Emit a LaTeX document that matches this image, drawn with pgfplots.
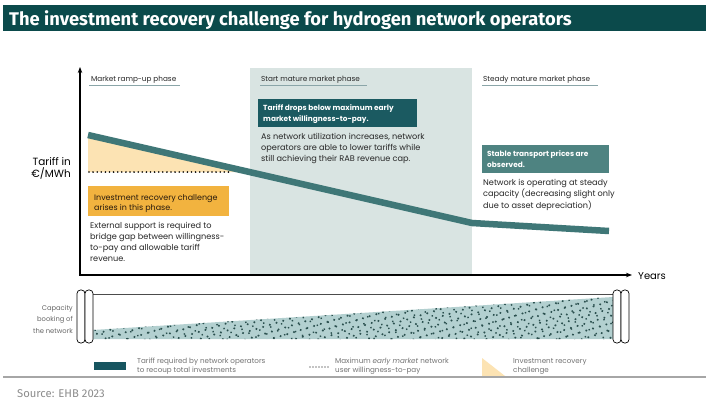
\documentclass[border=0pt]{standalone}
\usepackage{pgfplots}
\pgfplotsset{compat=1.18}
\usepackage{fontspec}
\setmainfont{Poppins}
\newfontfamily\titlefont{Fira Sans}
\usetikzlibrary{arrows.meta,patterns.meta}
\definecolor{titlebg}{HTML}{0B4A4B}
\definecolor{shade}{HTML}{D9E4E2}
\definecolor{tariff}{HTML}{3F7777}
\definecolor{peach}{HTML}{FCE3B3}
\definecolor{orangebox}{HTML}{F2B33F}
\definecolor{darkbox}{HTML}{1B5A61}
\definecolor{midbox}{HTML}{4E8381}
\definecolor{pipefill}{HTML}{B3D0D0}
\definecolor{dotc}{HTML}{2A4F4E}
\definecolor{legrect}{HTML}{175560}
\definecolor{uline}{HTML}{8AA5A8}
\definecolor{srcgray}{HTML}{8C8C8C}
\tikzset{
  txt/.style={anchor=base west, inner sep=0pt, align=left, text=black!85, font=\fontsize{8.2}{11}\selectfont},
  phase/.style={anchor=base west, inner sep=0pt, text=black!85, font=\fontsize{7.3}{9}\selectfont},
  boxtxt/.style={anchor=base west, inner sep=0pt, align=left, text=white, font=\bfseries\fontsize{7.4}{10.5}\selectfont},
  legtxt/.style={anchor=base west, inner sep=0pt, align=left, text=black!55, font=\fontsize{7.2}{9}\selectfont},
}
\begin{document}
\begin{tikzpicture}
\begin{axis}[
  scale only axis, width=709bp, height=400bp,
  xmin=0, xmax=709, ymin=0, ymax=400, y dir=reverse,
  hide axis, clip=false,
]
% background
\fill[white] (axis cs:0,0) rectangle (axis cs:709,400);
% title bar
\fill[titlebg] (axis cs:3,5) rectangle (axis cs:706,31);
\node[anchor=base west, inner sep=0pt, text=white, font=\titlefont\bfseries\fontsize{18.4}{20}\selectfont] at (axis cs:9,25) {The investment recovery challenge for hydrogen network operators};

% shaded mature phase
\addplot[fill=shade, draw=none] coordinates {(250,68) (472,68) (472,275) (250,275)} -- cycle;

% investment recovery challenge area
\addplot[fill=peach, draw=none] coordinates {(88,135) (251,172) (88,172)} -- cycle;

% willingness-to-pay (dotted)
\addplot[black, line width=1.8bp, line cap=round, dash pattern=on 0pt off 4.1bp] coordinates {(89,172) (232,172)};

% tariff line
\addplot[tariff, line width=6.5bp, line join=round] coordinates {(88,135) (472,223) (609,231)};

% axes
\addplot[black, line width=1.3bp, -{Stealth[length=6bp,width=4.5bp]}] coordinates {(80,275.6) (80,67)};
\addplot[black, line width=1.3bp, -{Stealth[length=6bp,width=4.5bp]}] coordinates {(79.4,275) (632,275)};
\node[anchor=base west, inner sep=0pt, font=\fontsize{10}{12}\selectfont] at (axis cs:638,279) {Years};

\node[anchor=base east, inner sep=0pt, align=right, font=\fontsize{10.5}{12}\selectfont] at (axis cs:71,177) {Tariff in\\€/MWh};

% phase labels
\node[phase] at (axis cs:91,81.5) {Market ramp-up phase};
\draw[uline, line width=0.8bp] (axis cs:89,85) -- (axis cs:180,85);
\node[phase] at (axis cs:261,81.5) {Start mature market phase};
\draw[uline, line width=0.8bp] (axis cs:260,85) -- (axis cs:367,85);
\node[phase] at (axis cs:483,81.5) {Steady mature market phase};
\draw[uline, line width=0.8bp] (axis cs:482,85) -- (axis cs:598,85);

% orange box
\fill[orangebox] (axis cs:88,186) rectangle (axis cs:229,216);
\node[txt, text=black!80!brown, font=\fontsize{8}{10}\selectfont] at (axis cs:94,210.5) {Investment recovery challenge\\arises in this phase.};
\node[txt] at (axis cs:90,261) {External support is required to\\bridge gap between willingness-\\to-pay and allowable tariff\\revenue.};

% dark box
\fill[darkbox] (axis cs:258,99) rectangle (axis cs:417,127);
\node[boxtxt] at (axis cs:263,121) {Tariff drops below maximum early\\market willingness-to-pay.};
\node[txt] at (axis cs:261,161) {As network utilization increases, network\\operators are able to lower tariffs while\\still achieving their RAB revenue cap.};

% mid box
\fill[midbox] (axis cs:482,145) rectangle (axis cs:609,173);
\node[boxtxt] at (axis cs:487,167) {Stable transport prices are\\observed.};
\node[txt, font=\fontsize{8.2}{11.25}\selectfont] at (axis cs:483,208) {Network is operating at steady\\capacity (decreasing slight only\\due to asset depreciation)};

% capacity pipe
\node[anchor=base east, inner sep=0pt, align=right, text=black!60, font=\fontsize{6.8}{11.5}\selectfont] at (axis cs:73,333) {Capacity\\booking of\\the network};
\addplot[fill=pipefill, draw=none,
  postaction={pattern={Dots[distance=7bp, radius=1.15bp, angle=17]}, pattern color=dotc},
  postaction={pattern={Dots[distance=8bp, radius=1bp, angle=61, xshift=2.7bp, yshift=2.1bp]}, pattern color=dotc}]
  coordinates {(93,330) (613,297) (613,339) (93,339)} -- cycle;
\addplot[black!70, line width=0.8bp] coordinates {(92,294) (614,294)};
\draw[black, fill=white, line width=0.7bp, rounded corners=3.5bp] (axis cs:77,290) rectangle (axis cs:85,343);
\draw[black, fill=white, line width=0.7bp, rounded corners=3.5bp] (axis cs:85,290) rectangle (axis cs:93,343);
\draw[black, fill=white, line width=0.7bp, rounded corners=3.5bp] (axis cs:613,290) rectangle (axis cs:621,343);
\draw[black, fill=white, line width=0.7bp, rounded corners=3.5bp] (axis cs:621,290) rectangle (axis cs:629,343);

% legend
\addplot[fill=legrect, draw=none] coordinates {(94,362) (126,362) (126,370) (94,370)} -- cycle;
\node[legtxt] at (axis cs:137,372) {Tariff required by network operators\\to recoup total investments};
\addplot[black, line width=1.3bp, line cap=round, dash pattern=on 0pt off 3bp] coordinates {(310,367) (329,367)};
\node[legtxt] at (axis cs:335,372) {Maximum \textit{early market} network\\user willingness-to-pay};
\addplot[fill=peach, draw=none] coordinates {(482,358) (482,376) (505,376)} -- cycle;
\node[legtxt] at (axis cs:513,372) {Investment recovery\\challenge};

% separator & source
\fill[black!35] (axis cs:3,376.2) rectangle (axis cs:706,378);
\node[anchor=base west, inner sep=0pt, text=srcgray, font=\titlefont\fontsize{11.3}{14}\selectfont] at (axis cs:17,397) {Source: EHB 2023};
\end{axis}
\end{tikzpicture}
\end{document}
